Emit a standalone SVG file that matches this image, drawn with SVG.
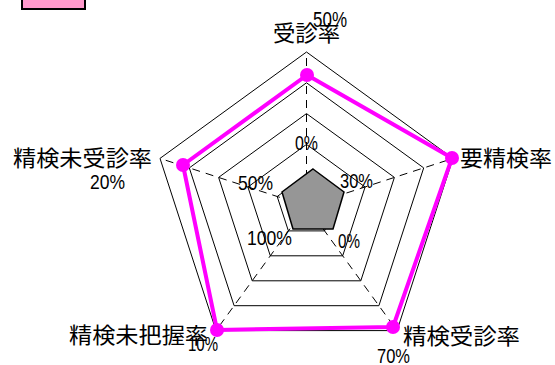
<svg xmlns="http://www.w3.org/2000/svg" width="555" height="365" viewBox="0 0 555 365">
<style>
.ring{fill:none;stroke:#000;stroke-width:1}
.axis{fill:none;stroke:#000;stroke-width:1;stroke-dasharray:8,6}
.cat{font-family:"Noto Sans CJK JP","Noto Sans CJK SC",sans-serif;font-size:22px;fill:#000}
.val{font-family:"Liberation Sans",Arial,sans-serif;font-size:21px;fill:#000}
.dot{fill:#FF00FF}
</style>
<rect width="555" height="365" fill="#fff"/>
<g id="legend">
<rect x="22" y="-5" width="63" height="14" fill="#FF99CC" stroke="#000" stroke-width="2"/>
</g>
<g id="grid">
<polygon class="ring" points="306.5,175.2 335.8,196.5 324.6,230.9 288.4,230.9 277.2,196.5"/>
<polygon class="ring" points="306.5,144.4 365.1,187 342.7,255.8 270.3,255.8 247.9,187"/>
<polygon class="ring" points="306.5,113.6 394.4,177.4 360.8,280.8 252.2,280.8 218.6,177.4"/>
<polygon class="ring" points="306.5,82.8 423.7,167.9 378.9,305.7 234.1,305.7 189.3,167.9"/>
<polygon class="ring" points="306.5,52 453,158.4 397,330.6 216,330.6 160,158.4"/>
</g>
<g id="connectors">
<line class="axis" x1="306.5" y1="206" x2="306.5" y2="52"/>
<line class="axis" x1="306.5" y1="206" x2="453" y2="158.4"/>
<line class="axis" x1="306.5" y1="206" x2="397" y2="330.6"/>
<line class="axis" x1="306.5" y1="206" x2="216" y2="330.6"/>
<line class="axis" x1="306.5" y1="206" x2="160" y2="158.4"/>
</g>
<g id="inner-area">
<polygon points="313,169 344,192 333,229 293,229 282,192" fill="#969696" stroke="#000" stroke-width="1.5"/>
</g>
<g id="series">
<polygon points="307,75 452,158 393,327 217,330 183,165" fill="none" stroke="#FF00FF" stroke-width="4" stroke-linejoin="round"/>
<circle class="dot" cx="307" cy="75" r="7"/>
<circle class="dot" cx="452" cy="158" r="7"/>
<circle class="dot" cx="393" cy="327" r="7"/>
<circle class="dot" cx="217" cy="330" r="7"/>
<circle class="dot" cx="183" cy="165" r="7"/>
</g>
<g id="labels">
<text class="cat" x="273" y="40.5" textLength="67" lengthAdjust="spacingAndGlyphs">受診率</text>
<text class="cat" x="460" y="166" textLength="92" lengthAdjust="spacingAndGlyphs">要精検率</text>
<text class="cat" x="13" y="165.5" textLength="139" lengthAdjust="spacingAndGlyphs">精検未受診率</text>
<text class="cat" x="69" y="342.5" textLength="139" lengthAdjust="spacingAndGlyphs">精検未把握率</text>
<text class="cat" x="403" y="343.5" textLength="117" lengthAdjust="spacingAndGlyphs">精検受診率</text>
<text class="val" x="313" y="27" textLength="34" lengthAdjust="spacingAndGlyphs" style="font-size:22px">50%</text>
<text class="val" x="90" y="189" textLength="35" lengthAdjust="spacingAndGlyphs">20%</text>
<text class="val" x="188" y="351" textLength="30" lengthAdjust="spacingAndGlyphs">10%</text>
<text class="val" x="377" y="363" textLength="33" lengthAdjust="spacingAndGlyphs">70%</text>
<text class="val" x="295" y="150" textLength="23" lengthAdjust="spacingAndGlyphs">0%</text>
<text class="val" x="340" y="188" textLength="33" lengthAdjust="spacingAndGlyphs">30%</text>
<text class="val" x="238" y="190" textLength="35" lengthAdjust="spacingAndGlyphs">50%</text>
<text class="val" x="247" y="245" textLength="45" lengthAdjust="spacingAndGlyphs">100%</text>
<text class="val" x="338" y="248" textLength="22" lengthAdjust="spacingAndGlyphs">0%</text>
</g>
</svg>
